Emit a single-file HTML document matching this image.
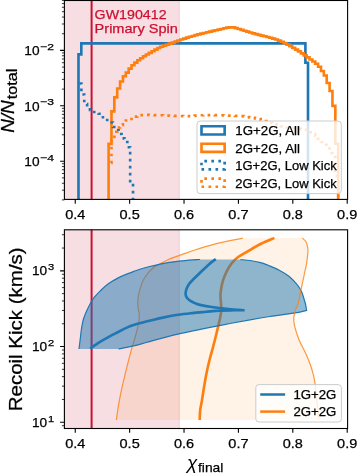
<!DOCTYPE html>
<html><head><meta charset="utf-8"><title>plot</title>
<style>
html,body{margin:0;padding:0;background:#fff;width:357px;height:473px;overflow:hidden;}
svg{display:block;will-change:transform;}
text{font-family:"Liberation Sans",sans-serif;fill:#000;stroke:#000;stroke-width:0.25px;}
</style></head><body>
<svg width="357" height="473" viewBox="0 0 357 473">
<defs><clipPath id="ct"><rect x="64.4" y="0.5" width="283.2" height="198.9"/></clipPath><clipPath id="cb"><rect x="64.4" y="229.8" width="283.2" height="198.7"/></clipPath></defs>
<rect width="357" height="473" fill="#fff"/>
<rect x="64.4" y="0.5" width="114.9" height="198.9" fill="rgb(247,222,227)"/>
<line x1="179.3" y1="0.5" x2="179.3" y2="199.4" stroke="rgb(245,205,213)" stroke-width="1"/>
<line x1="91.6" y1="0.5" x2="91.6" y2="199.4" stroke="#cc1030" stroke-width="2"/>
<g fill="none" stroke-linejoin="miter" stroke-linecap="butt" clip-path="url(#ct)">
<path d="M78.5 200.4 V54.4 H81.3 V43.4 H305.4 V62.8 H308 V200.4" stroke="#1f77b4" stroke-width="2.64"/>
<path d="M108.6 200.4 L108.6 143.89 L111.47 143.89 L111.47 111.37 L114.34 111.37 L114.34 97.39 L117.21 97.39 L117.21 88.48 L120.08 88.48 L120.08 81.47 L122.95 81.47 L122.95 76.22 L125.82 76.22 L125.82 72.56 L128.69 72.56 L128.69 68.57 L131.56 68.57 L131.56 65.21 L134.43 65.21 L134.43 62.63 L137.3 62.63 L137.3 60.27 L140.17 60.27 L140.17 58.2 L143.04 58.2 L143.04 56.22 L145.91 56.22 L145.91 54.47 L148.78 54.47 L148.78 52.89 L151.65 52.89 L151.65 51.21 L154.52 51.21 L154.52 49.63 L157.39 49.63 L157.39 47.98 L160.26 47.98 L160.26 46.74 L163.13 46.74 L163.13 45.67 L166 45.67 L166 44.64 L168.87 44.64 L168.87 43.59 L171.74 43.59 L171.74 42.56 L174.61 42.56 L174.61 41.55 L177.48 41.55 L177.48 40.55 L180.35 40.55 L180.35 39.55 L183.22 39.55 L183.22 38.57 L186.09 38.57 L186.09 37.64 L188.96 37.64 L188.96 36.77 L191.83 36.77 L191.83 35.96 L194.7 35.96 L194.7 35.17 L197.57 35.17 L197.57 34.42 L200.44 34.42 L200.44 33.69 L203.31 33.69 L203.31 32.99 L206.18 32.99 L206.18 32.29 L209.05 32.29 L209.05 31.59 L211.92 31.59 L211.92 30.89 L214.79 30.89 L214.79 30.21 L217.66 30.21 L217.66 29.56 L220.53 29.56 L220.53 28.95 L223.4 28.95 L223.4 28.3 L226.27 28.3 L226.27 27.61 L229.14 27.61 L229.14 27.21 L232.01 27.21 L232.01 27.42 L234.88 27.42 L234.88 28.11 L237.75 28.11 L237.75 29.01 L240.62 29.01 L240.62 29.84 L243.49 29.84 L243.49 30.7 L246.36 30.7 L246.36 31.62 L249.23 31.62 L249.23 32.52 L252.1 32.52 L252.1 33.33 L254.97 33.33 L254.97 34.11 L257.84 34.11 L257.84 34.86 L260.71 34.86 L260.71 35.58 L263.58 35.58 L263.58 36.25 L266.45 36.25 L266.45 37 L269.32 37 L269.32 37.79 L272.19 37.79 L272.19 38.63 L275.06 38.63 L275.06 39.54 L277.93 39.54 L277.93 40.56 L280.8 40.56 L280.8 41.73 L283.67 41.73 L283.67 43.08 L286.54 43.08 L286.54 44.59 L289.41 44.59 L289.41 46.19 L292.28 46.19 L292.28 47.84 L295.15 47.84 L295.15 49.56 L298.02 49.56 L298.02 51.42 L300.89 51.42 L300.89 53.36 L303.76 53.36 L303.76 55.33 L306.63 55.33 L306.63 57.38 L309.5 57.38 L309.5 59.45 L312.37 59.45 L312.37 61.5 L315.24 61.5 L315.24 63.7 L318.11 63.7 L318.11 66.7 L320.98 66.7 L320.98 71 L323.85 71 L323.85 75.5 L326.72 75.5 L326.72 83 L329.59 83 L329.59 91 L332.46 91 L332.46 105.9 L335.33 105.9 L335.33 143.7 L338.2 143.7 L338.2 200.4" stroke="#ff7f0e" stroke-width="2.64"/>
<path d="M78.5 83.5 L81.37 83.5 L81.37 94.5 L84.24 94.5 L84.24 104 L87.11 104 L87.11 107.5 L89.98 107.5 L89.98 110 L92.85 110 L92.85 112 L95.72 112 L95.72 113 L98.59 113 L98.59 113.8 L101.46 113.8 L101.46 117.3 L104.33 117.3 L104.33 118.5 L107.2 118.5 L107.2 120 L110.07 120 L110.07 122.5 L112.94 122.5 L112.94 127 L115.81 127 L115.81 130 L118.68 130 L118.68 134 L121.55 134 L121.55 138.4 L124.42 138.4 L124.42 142 L127.29 142 L127.29 147.3 L130.16 147.3 L130.16 183 L133.03 183 L133.03 200.4" stroke="#1f77b4" stroke-width="2.64" stroke-dasharray="2.64 4.36" stroke-dashoffset="-0.9"/>
<path d="M108.6 163 L111.47 163 L111.47 137 L114.34 137 L114.34 131.8 L117.21 131.8 L117.21 127.5 L120.08 127.5 L120.08 125 L122.95 125 L122.95 124.3 L125.82 124.3 L125.82 120.5 L128.69 120.5 L128.69 118.99 L131.56 118.99 L131.56 117.5 L134.43 117.5 L134.43 116.61 L137.3 116.61 L137.3 115.78 L140.17 115.78 L140.17 115.19 L143.04 115.19 L143.04 114.81 L145.91 114.81 L145.91 114.82 L148.78 114.82 L148.78 114.87 L151.65 114.87 L151.65 114.96 L154.52 114.96 L154.52 115.06 L157.39 115.06 L157.39 115.16 L160.26 115.16 L160.26 115.26 L163.13 115.26 L163.13 115.37 L166 115.37 L166 115.5 L168.87 115.5 L168.87 115.62 L171.74 115.62 L171.74 115.74 L174.61 115.74 L174.61 115.83 L177.48 115.83 L177.48 115.94 L180.35 115.94 L180.35 116.04 L183.22 116.04 L183.22 116.12 L186.09 116.12 L186.09 116.18 L188.96 116.18 L188.96 116.2 L191.83 116.2 L191.83 115.99 L194.7 115.99 L194.7 115.63 L197.57 115.63 L197.57 115.34 L200.44 115.34 L200.44 115.26 L203.31 115.26 L203.31 115.2 L206.18 115.2 L206.18 115.15 L209.05 115.15 L209.05 115.12 L211.92 115.12 L211.92 115.1 L214.79 115.1 L214.79 115.11 L217.66 115.11 L217.66 115.16 L220.53 115.16 L220.53 115.26 L223.4 115.26 L223.4 115.38 L226.27 115.38 L226.27 115.51 L229.14 115.51 L229.14 115.62 L232.01 115.62 L232.01 115.72 L234.88 115.72 L234.88 115.82 L237.75 115.82 L237.75 115.95 L240.62 115.95 L240.62 116.17 L243.49 116.17 L243.49 116.53 L246.36 116.53 L246.36 116.96 L249.23 116.96 L249.23 117.4 L252.1 117.4 L252.1 117.84 L254.97 117.84 L254.97 118.36 L257.84 118.36 L257.84 119.05 L260.71 119.05 L260.71 120.02 L263.58 120.02 L263.58 120.97 L266.45 120.97 L266.45 121.88 L269.32 121.88 L269.32 122.61 L272.19 122.61 L272.19 123.32 L275.06 123.32 L275.06 124.36 L277.93 124.36 L277.93 125.46 L280.8 125.46 L280.8 126.32 L283.67 126.32 L283.67 127 L286.54 127 L286.54 127.46 L289.41 127.46 L289.41 127.82 L292.28 127.82 L292.28 128.15 L295.15 128.15 L295.15 128.47 L298.02 128.47 L298.02 128.72 L300.89 128.72 L300.89 129.05 L303.76 129.05 L303.76 129.72 L306.63 129.72 L306.63 130.93 L309.5 130.93 L309.5 132.24 L312.37 132.24 L312.37 133.8 L315.24 133.8 L315.24 135.68 L318.11 135.68 L318.11 138.84 L320.98 138.84 L320.98 141.98 L323.85 141.98 L323.85 144.79 L326.72 144.79 L326.72 148.34 L329.59 148.34 L329.59 153.13 L332.46 153.13 L332.46 156.99 L335.33 156.99 L335.33 176 L338.2 176 L338.2 200.4" stroke="#ff7f0e" stroke-width="2.64" stroke-dasharray="2.64 4.36" stroke-dashoffset="4.4"/>
</g>
<rect x="197.0" y="121.0" width="144.3" height="72.6" rx="3.2" fill="rgba(255,255,255,0.8)" stroke="#cccccc" stroke-width="1"/>
<path d="M201.5 134.45 H224.65 V126.25 H201.5 Z" fill="none" stroke="#1f77b4" stroke-width="2.64"/>
<path d="M201.5 151.9 H224.65 V143.7 H201.5 Z" fill="none" stroke="#ff7f0e" stroke-width="2.64"/>
<path d="M201.5 169.35 H224.65 V161.15 H201.5 Z" fill="none" stroke="#1f77b4" stroke-width="2.64" stroke-dasharray="2.64 4.36"/>
<path d="M201.5 186.8 H224.65 V178.6 H201.5 Z" fill="none" stroke="#ff7f0e" stroke-width="2.64" stroke-dasharray="2.64 4.36"/>
<text x="235.3" y="135.35" font-size="12.4" textLength="64.6" lengthAdjust="spacingAndGlyphs">1G+2G, All</text>
<text x="235.3" y="152.8" font-size="12.4" textLength="64.6" lengthAdjust="spacingAndGlyphs">2G+2G, All</text>
<text x="235.3" y="170.25" font-size="12.4" textLength="101.4" lengthAdjust="spacingAndGlyphs">1G+2G, Low Kick</text>
<text x="235.3" y="187.7" font-size="12.4" textLength="101.4" lengthAdjust="spacingAndGlyphs">2G+2G, Low Kick</text>
<text x="94.6" y="19" font-size="12.9" style="fill:#cc1030;stroke:#cc1030" textLength="72" lengthAdjust="spacingAndGlyphs">GW190412</text>
<text x="94.6" y="32.8" font-size="12.9" style="fill:#cc1030;stroke:#cc1030" textLength="83.2" lengthAdjust="spacingAndGlyphs">Primary Spin</text>
<rect x="64.4" y="229.8" width="114.9" height="198.7" fill="rgb(247,222,227)"/>
<line x1="179.3" y1="229.8" x2="179.3" y2="428.5" stroke="rgb(245,205,213)" stroke-width="1"/>
<line x1="91.6" y1="229.8" x2="91.6" y2="428.5" stroke="#cc1030" stroke-width="2"/>
<g clip-path="url(#cb)">
<path d="M116.4 420 C116.52 419.07 116.67 417.33 117.1 414.4 C117.53 411.47 118.22 406.75 119 402.4 C119.78 398.05 120.78 393 121.8 388.3 C122.82 383.6 123.97 378.88 125.1 374.2 C126.23 369.52 127.43 364.72 128.6 360.2 C129.77 355.68 131.05 350.8 132.1 347.1 C133.15 343.4 134.07 340.85 134.9 338 C135.73 335.15 136.45 332.67 137.1 330 C137.75 327.33 138.43 324.5 138.8 322 C139.17 319.5 139.35 317 139.3 315 C139.25 313 138.73 311.55 138.5 310 C138.27 308.45 137.97 307.68 137.9 305.7 C137.83 303.72 137.75 300.85 138.1 298.1 C138.45 295.35 139.15 292.17 140 289.2 C140.85 286.23 141.82 283.05 143.2 280.3 C144.58 277.55 146.62 274.8 148.3 272.7 C149.98 270.6 151.52 269.1 153.3 267.7 C155.08 266.3 156.88 265.47 159 264.3 C161.12 263.13 163.67 261.82 166 260.7 C168.33 259.58 170.83 258.45 173 257.6 C175.17 256.75 177 256.3 179 255.6 C181 254.9 182.37 254.33 185 253.4 C187.63 252.47 191.53 251.08 194.8 250 C198.07 248.92 201.33 247.88 204.6 246.9 C207.87 245.92 211.13 244.95 214.4 244.1 C217.67 243.25 220.93 242.52 224.2 241.8 C227.47 241.08 230.9 240.4 234 239.8 C237.1 239.2 241.33 238.47 242.8 238.2 L302.3 238 C302.88 238.58 304.92 240 305.8 241.5 C306.68 243 307.25 245.25 307.6 247 C307.95 248.75 308.07 249.28 307.9 252 C307.73 254.72 307.12 259.97 306.6 263.3 C306.08 266.63 305.42 269.05 304.8 272 C304.18 274.95 303.55 277.97 302.9 281 C302.25 284.03 301.65 286.57 300.9 290.2 C300.15 293.83 299.3 299.5 298.4 302.8 C297.5 306.1 296.28 307.4 295.5 310 C294.72 312.6 293.82 315.58 293.7 318.4 C293.58 321.22 293.87 323.23 294.8 326.9 C295.73 330.57 297.57 336.18 299.3 340.4 C301.03 344.62 303.4 348.27 305.2 352.2 C307 356.13 308.77 360.33 310.1 364 C311.43 367.67 312.4 371.1 313.2 374.2 C314 377.3 314.42 379.63 314.9 382.6 C315.38 385.57 315.75 388.6 316.1 392 C316.45 395.4 316.65 399.67 317 403 C317.35 406.33 317.9 409.17 318.2 412 C318.5 414.83 318.7 418.67 318.8 420 Z" fill="rgba(255,127,14,0.1)" stroke="none"/>
<path d="M116.4 420 C116.52 419.07 116.67 417.33 117.1 414.4 C117.53 411.47 118.22 406.75 119 402.4 C119.78 398.05 120.78 393 121.8 388.3 C122.82 383.6 123.97 378.88 125.1 374.2 C126.23 369.52 127.43 364.72 128.6 360.2 C129.77 355.68 131.05 350.8 132.1 347.1 C133.15 343.4 134.07 340.85 134.9 338 C135.73 335.15 136.45 332.67 137.1 330 C137.75 327.33 138.43 324.5 138.8 322 C139.17 319.5 139.35 317 139.3 315 C139.25 313 138.73 311.55 138.5 310 C138.27 308.45 137.97 307.68 137.9 305.7 C137.83 303.72 137.75 300.85 138.1 298.1 C138.45 295.35 139.15 292.17 140 289.2 C140.85 286.23 141.82 283.05 143.2 280.3 C144.58 277.55 146.62 274.8 148.3 272.7 C149.98 270.6 151.52 269.1 153.3 267.7 C155.08 266.3 156.88 265.47 159 264.3 C161.12 263.13 163.67 261.82 166 260.7 C168.33 259.58 170.83 258.45 173 257.6 C175.17 256.75 177 256.3 179 255.6 C181 254.9 182.37 254.33 185 253.4 C187.63 252.47 191.53 251.08 194.8 250 C198.07 248.92 201.33 247.88 204.6 246.9 C207.87 245.92 211.13 244.95 214.4 244.1 C217.67 243.25 220.93 242.52 224.2 241.8 C227.47 241.08 230.9 240.4 234 239.8 C237.1 239.2 241.33 238.47 242.8 238.2" fill="none" stroke="#ff7f0e" stroke-width="1.2" stroke-opacity="0.8"/>
<path d="M199.7 420 C199.78 418.33 199.83 413.22 200.2 410 C200.57 406.78 201.28 404.37 201.9 400.7 C202.52 397.03 203.15 392.48 203.9 388 C204.65 383.52 205.47 378.47 206.4 373.8 C207.33 369.13 208.38 364.48 209.5 360 C210.62 355.52 212 351.07 213.1 346.9 C214.2 342.73 215.12 339 216.1 335 C217.08 331 218.15 326.78 219 322.9 C219.85 319.02 220.85 314.68 221.2 311.7 C221.55 308.72 221.22 307.45 221.1 305 C220.98 302.55 220.55 299.35 220.5 297 C220.45 294.65 220.42 293.55 220.8 290.9 C221.18 288.25 221.82 284.37 222.8 281.1 C223.78 277.83 225.23 274.25 226.7 271.3 C228.17 268.35 229.8 265.7 231.6 263.4 C233.4 261.1 234.88 259.47 237.5 257.5 C240.12 255.53 243.38 253.88 247.3 251.6 C251.22 249.32 256.48 246.08 261 243.8 C265.52 241.52 272.17 238.88 274.4 237.9" fill="none" stroke="#ff7f0e" stroke-width="2.64"/>
<path d="M79 349 C79.07 348.45 79.15 347.7 79.4 345.7 C79.65 343.7 80.18 339.62 80.5 337 C80.82 334.38 80.8 333 81.3 330 C81.8 327 82.5 322.42 83.5 319 C84.5 315.58 85.72 312.83 87.3 309.5 C88.88 306.17 90.77 302.17 93 299 C95.23 295.83 98.15 293.03 100.7 290.5 C103.25 287.97 105.45 285.87 108.3 283.8 C111.15 281.73 114.63 279.75 117.8 278.1 C120.97 276.45 124.6 275.02 127.3 273.9 C130 272.78 131.77 272.22 134 271.4 C136.23 270.58 138.1 269.82 140.7 269 C143.3 268.18 146.48 267.28 149.6 266.5 C152.72 265.72 156.13 264.98 159.4 264.3 C162.67 263.62 165.93 262.93 169.2 262.4 C172.47 261.87 175.73 261.47 179 261.1 C182.27 260.73 185.85 260.45 188.8 260.2 C191.75 259.95 194.83 259.72 196.7 259.6 C198.57 259.48 199.45 259.52 200 259.5 L240.4 259.6  C242 259.75 246.63 260 250 260.5 C253.37 261 257.6 261.8 260.6 262.6 C263.6 263.4 264.97 264.07 268 265.3 C271.03 266.53 275.32 268.17 278.8 270 C282.28 271.83 285.95 273.98 288.9 276.3 C291.85 278.62 294.5 281.58 296.5 283.9 C298.5 286.22 299.88 288.43 300.9 290.2 C301.92 291.97 302.08 293.03 302.6 294.5 C303.12 295.97 303.52 297.42 304 299 C304.48 300.58 305.07 302.1 305.5 304 C305.93 305.9 306.42 309.33 306.6 310.4  C304.7 310.82 301.3 311.88 295.2 312.9 C289.1 313.92 277.53 315.35 270 316.5 C262.47 317.65 256.67 318.63 250 319.8 C243.33 320.97 236.67 322.23 230 323.5 C223.33 324.77 216 326.22 210 327.4 C204 328.58 199 329.55 194 330.6 C189 331.65 184.67 332.62 180 333.7 C175.33 334.78 170.67 335.92 166 337.1 C161.33 338.28 156.67 339.52 152 340.8 C147.33 342.08 142.67 343.62 138 344.8 C133.33 345.98 127.25 347.2 124 347.9 C120.75 348.6 119.42 348.82 118.5 349 Z" fill="rgba(31,119,180,0.5)" stroke="none"/>
<path d="M79 349 C79.07 348.45 79.15 347.7 79.4 345.7 C79.65 343.7 80.18 339.62 80.5 337 C80.82 334.38 80.8 333 81.3 330 C81.8 327 82.5 322.42 83.5 319 C84.5 315.58 85.72 312.83 87.3 309.5 C88.88 306.17 90.77 302.17 93 299 C95.23 295.83 98.15 293.03 100.7 290.5 C103.25 287.97 105.45 285.87 108.3 283.8 C111.15 281.73 114.63 279.75 117.8 278.1 C120.97 276.45 124.6 275.02 127.3 273.9 C130 272.78 131.77 272.22 134 271.4 C136.23 270.58 138.1 269.82 140.7 269 C143.3 268.18 146.48 267.28 149.6 266.5 C152.72 265.72 156.13 264.98 159.4 264.3 C162.67 263.62 165.93 262.93 169.2 262.4 C172.47 261.87 175.73 261.47 179 261.1 C182.27 260.73 185.85 260.45 188.8 260.2 C191.75 259.95 194.83 259.72 196.7 259.6 C198.57 259.48 199.45 259.52 200 259.5" fill="none" stroke="#1f77b4" stroke-width="1.2"/>
<path d="M118.5 349 C119.42 348.82 120.75 348.6 124 347.9 C127.25 347.2 133.33 345.98 138 344.8 C142.67 343.62 147.33 342.08 152 340.8 C156.67 339.52 161.33 338.28 166 337.1 C170.67 335.92 175.33 334.78 180 333.7 C184.67 332.62 189 331.65 194 330.6 C199 329.55 204 328.58 210 327.4 C216 326.22 223.33 324.77 230 323.5 C236.67 322.23 243.33 320.97 250 319.8 C256.67 318.63 262.47 317.65 270 316.5 C277.53 315.35 289.1 313.92 295.2 312.9 C301.3 311.88 304.7 310.82 306.6 310.4 C306.42 309.33 305.93 305.9 305.5 304 C305.07 302.1 304.48 300.58 304 299 C303.52 297.42 303.12 295.97 302.6 294.5 C302.08 293.03 301.92 291.97 300.9 290.2 C299.88 288.43 298.5 286.22 296.5 283.9 C294.5 281.58 291.85 278.62 288.9 276.3 C285.95 273.98 282.28 271.83 278.8 270 C275.32 268.17 271.03 266.53 268 265.3 C264.97 264.07 263.6 263.4 260.6 262.6 C257.6 261.8 253.37 261 250 260.5 C246.63 260 242 259.75 240.4 259.6" fill="none" stroke="#1f77b4" stroke-width="1.2"/>
<path d="M302.3 238 C302.88 238.58 304.92 240 305.8 241.5 C306.68 243 307.25 245.25 307.6 247 C307.95 248.75 308.07 249.28 307.9 252 C307.73 254.72 307.12 259.97 306.6 263.3 C306.08 266.63 305.42 269.05 304.8 272 C304.18 274.95 303.55 277.97 302.9 281 C302.25 284.03 301.65 286.57 300.9 290.2 C300.15 293.83 299.3 299.5 298.4 302.8 C297.5 306.1 296.28 307.4 295.5 310 C294.72 312.6 293.82 315.58 293.7 318.4 C293.58 321.22 293.87 323.23 294.8 326.9 C295.73 330.57 297.57 336.18 299.3 340.4 C301.03 344.62 303.4 348.27 305.2 352.2 C307 356.13 308.77 360.33 310.1 364 C311.43 367.67 312.4 371.1 313.2 374.2 C314 377.3 314.42 379.63 314.9 382.6 C315.38 385.57 315.75 388.6 316.1 392 C316.45 395.4 316.65 399.67 317 403 C317.35 406.33 317.9 409.17 318.2 412 C318.5 414.83 318.7 418.67 318.8 420" fill="none" stroke="#ff7f0e" stroke-width="1.2" stroke-opacity="0.8"/>
<path d="M90.2 348.6 C91 348.03 93.37 346.33 95 345.2 C96.63 344.07 98 343.03 100 341.8 C102 340.57 104.67 339.08 107 337.8 C109.33 336.52 111.67 335.32 114 334.1 C116.33 332.88 118.67 331.67 121 330.5 C123.33 329.33 125.5 328.13 128 327.1 C130.5 326.07 132 325.45 136 324.3 C140 323.15 147.33 321.35 152 320.2 C156.67 319.05 159.67 318.3 164 317.4 C168.33 316.5 173.33 315.52 178 314.8 C182.67 314.08 187.33 313.6 192 313.1 C196.67 312.6 201.33 312.22 206 311.8 C210.67 311.38 215.33 310.85 220 310.6 C224.67 310.35 229.9 310.37 234 310.3 C238.1 310.23 242.83 310.22 244.6 310.2 C241.9 310 233.9 309.53 228.4 309 C222.9 308.47 216.5 307.73 211.6 307 C206.7 306.27 202.08 305.38 199 304.6 C195.92 303.82 194.78 303.12 193.1 302.3 C191.42 301.48 190.02 300.62 188.9 299.7 C187.78 298.78 186.95 297.85 186.4 296.8 C185.85 295.75 185.6 294.67 185.6 293.4 C185.6 292.13 185.85 290.73 186.4 289.2 C186.95 287.67 187.78 285.82 188.9 284.2 C190.02 282.58 191.58 281.07 193.1 279.5 C194.62 277.93 196.32 276.42 198 274.8 C199.68 273.18 201.53 271.38 203.2 269.8 C204.87 268.22 206.6 266.58 208 265.3 C209.4 264.02 210.3 263.13 211.6 262.1 C212.9 261.07 215.1 259.6 215.8 259.1" fill="none" stroke="#1f77b4" stroke-width="2.64" stroke-linejoin="miter"/>
</g>
<rect x="255.8" y="384.6" width="85.6" height="37.4" rx="3.2" fill="rgba(255,255,255,0.8)" stroke="#cccccc" stroke-width="1"/>
<line x1="260.2" y1="394.5" x2="285.1" y2="394.5" stroke="#1f77b4" stroke-width="2.5"/>
<line x1="260.2" y1="411.6" x2="285.1" y2="411.6" stroke="#ff7f0e" stroke-width="2.5"/>
<text x="293.4" y="399.2" font-size="12.4" textLength="43" lengthAdjust="spacingAndGlyphs">1G+2G</text>
<text x="293.4" y="416.3" font-size="12.4" textLength="43" lengthAdjust="spacingAndGlyphs">2G+2G</text>
<rect x="64.4" y="0.5" width="283.2" height="198.9" fill="none" stroke="#000" stroke-width="1.1"/>
<rect x="64.4" y="229.8" width="283.2" height="198.7" fill="none" stroke="#000" stroke-width="1.1"/>
<path d="M75.25 199.4 V203.7 M75.25 428.5 V432.8 M129.64 199.4 V203.7 M129.64 428.5 V432.8 M184.03 199.4 V203.7 M184.03 428.5 V432.8 M238.42 199.4 V203.7 M238.42 428.5 V432.8 M292.81 199.4 V203.7 M292.81 428.5 V432.8 M347.2 199.4 V203.7 M347.2 428.5 V432.8 M64.4 161.2 H60.1 M64.4 105.8 H60.1 M64.4 50.4 H60.1 M64.4 422.25 H60.1 M64.4 346.55 H60.1 M64.4 270.85 H60.1" stroke="#000" stroke-width="1.1" fill="none"/>
<path d="M64.4 199.92 H61.9 M64.4 190.17 H61.9 M64.4 183.25 H61.9 M64.4 177.88 H61.9 M64.4 173.49 H61.9 M64.4 169.78 H61.9 M64.4 166.57 H61.9 M64.4 163.73 H61.9 M64.4 144.52 H61.9 M64.4 134.77 H61.9 M64.4 127.85 H61.9 M64.4 122.48 H61.9 M64.4 118.09 H61.9 M64.4 114.38 H61.9 M64.4 111.17 H61.9 M64.4 108.33 H61.9 M64.4 89.12 H61.9 M64.4 79.37 H61.9 M64.4 72.45 H61.9 M64.4 67.08 H61.9 M64.4 62.69 H61.9 M64.4 58.98 H61.9 M64.4 55.77 H61.9 M64.4 52.93 H61.9 M64.4 33.72 H61.9 M64.4 23.97 H61.9 M64.4 17.05 H61.9 M64.4 11.68 H61.9 M64.4 7.29 H61.9 M64.4 3.58 H61.9 M64.4 0.37 H61.9 M64.4 425.71 H61.9 M64.4 399.46 H61.9 M64.4 386.13 H61.9 M64.4 376.67 H61.9 M64.4 369.34 H61.9 M64.4 363.34 H61.9 M64.4 358.28 H61.9 M64.4 353.89 H61.9 M64.4 350.01 H61.9 M64.4 323.76 H61.9 M64.4 310.43 H61.9 M64.4 300.97 H61.9 M64.4 293.64 H61.9 M64.4 287.64 H61.9 M64.4 282.58 H61.9 M64.4 278.19 H61.9 M64.4 274.31 H61.9 M64.4 248.06 H61.9 M64.4 234.73 H61.9" stroke="#000" stroke-width="0.8" fill="none"/>
<text x="75.25" y="219.0" font-size="13.3" text-anchor="middle" textLength="20.2" lengthAdjust="spacingAndGlyphs">0.4</text>
<text x="75.25" y="448.0" font-size="13.3" text-anchor="middle" textLength="20.2" lengthAdjust="spacingAndGlyphs">0.4</text>
<text x="129.64" y="219.0" font-size="13.3" text-anchor="middle" textLength="20.2" lengthAdjust="spacingAndGlyphs">0.5</text>
<text x="129.64" y="448.0" font-size="13.3" text-anchor="middle" textLength="20.2" lengthAdjust="spacingAndGlyphs">0.5</text>
<text x="184.03" y="219.0" font-size="13.3" text-anchor="middle" textLength="20.2" lengthAdjust="spacingAndGlyphs">0.6</text>
<text x="184.03" y="448.0" font-size="13.3" text-anchor="middle" textLength="20.2" lengthAdjust="spacingAndGlyphs">0.6</text>
<text x="238.42" y="219.0" font-size="13.3" text-anchor="middle" textLength="20.2" lengthAdjust="spacingAndGlyphs">0.7</text>
<text x="238.42" y="448.0" font-size="13.3" text-anchor="middle" textLength="20.2" lengthAdjust="spacingAndGlyphs">0.7</text>
<text x="292.81" y="219.0" font-size="13.3" text-anchor="middle" textLength="20.2" lengthAdjust="spacingAndGlyphs">0.8</text>
<text x="292.81" y="448.0" font-size="13.3" text-anchor="middle" textLength="20.2" lengthAdjust="spacingAndGlyphs">0.8</text>
<text x="347.2" y="219.0" font-size="13.3" text-anchor="middle" textLength="20.2" lengthAdjust="spacingAndGlyphs">0.9</text>
<text x="347.2" y="448.0" font-size="13.3" text-anchor="middle" textLength="20.2" lengthAdjust="spacingAndGlyphs">0.9</text>
<text x="24.3" y="55.2" font-size="13.3" textLength="15.2" lengthAdjust="spacingAndGlyphs">10</text>
<text x="40.2" y="49.8" font-size="9.3" textLength="13.8" lengthAdjust="spacingAndGlyphs">−2</text>
<text x="24.3" y="110.6" font-size="13.3" textLength="15.2" lengthAdjust="spacingAndGlyphs">10</text>
<text x="40.2" y="105.2" font-size="9.3" textLength="13.8" lengthAdjust="spacingAndGlyphs">−3</text>
<text x="24.3" y="166" font-size="13.3" textLength="15.2" lengthAdjust="spacingAndGlyphs">10</text>
<text x="40.2" y="160.6" font-size="9.3" textLength="13.8" lengthAdjust="spacingAndGlyphs">−4</text>
<text x="31.9" y="275.45" font-size="13.3" textLength="15.2" lengthAdjust="spacingAndGlyphs">10</text>
<text x="47.9" y="270.25" font-size="9.3" textLength="6.2" lengthAdjust="spacingAndGlyphs">3</text>
<text x="31.9" y="351.15" font-size="13.3" textLength="15.2" lengthAdjust="spacingAndGlyphs">10</text>
<text x="47.9" y="345.95" font-size="9.3" textLength="6.2" lengthAdjust="spacingAndGlyphs">2</text>
<text x="31.9" y="426.85" font-size="13.3" textLength="15.2" lengthAdjust="spacingAndGlyphs">10</text>
<text x="47.9" y="421.65" font-size="9.3" textLength="6.2" lengthAdjust="spacingAndGlyphs">1</text>
<text transform="translate(14.2,132.8) rotate(-90)" font-size="18.9" font-style="italic" textLength="32.6" lengthAdjust="spacingAndGlyphs">N/N</text>
<text transform="translate(16.6,99.2) rotate(-90)" font-size="13.8" textLength="30.6" lengthAdjust="spacingAndGlyphs">total</text>
<text transform="translate(22.4,411.3) rotate(-90)" font-size="18.9" textLength="164" lengthAdjust="spacingAndGlyphs">Recoil Kick (km/s)</text>
<text x="187.1" y="469.4" font-size="18.9" font-style="italic" style="stroke-width:0">χ</text>
<text x="198" y="471.5" font-size="13.3" textLength="25.4" lengthAdjust="spacingAndGlyphs">final</text>
</svg>
</body></html>
